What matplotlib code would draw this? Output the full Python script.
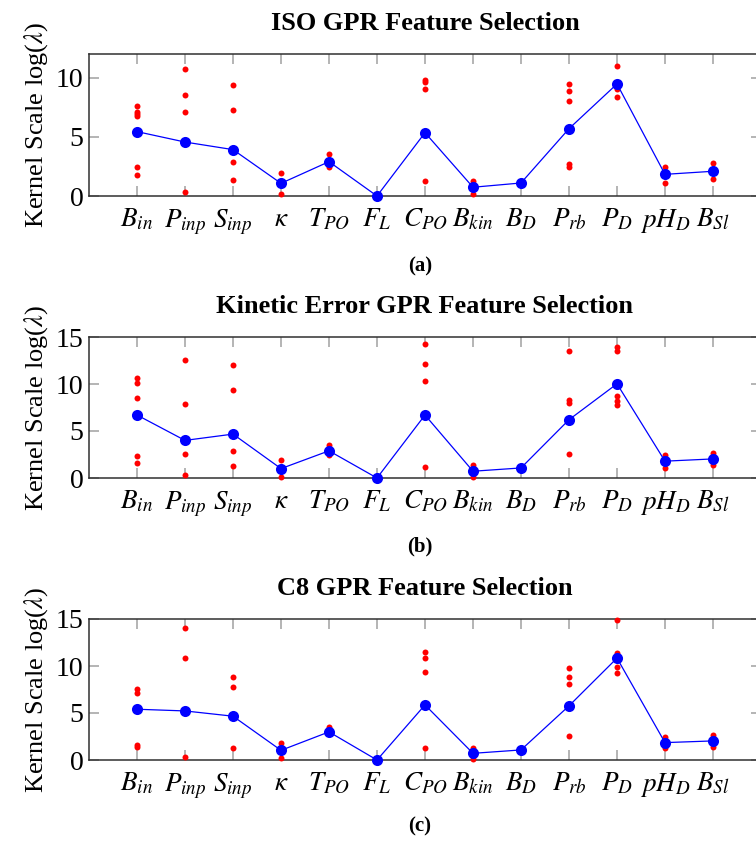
import numpy as np
import matplotlib
matplotlib.use("Agg")
import matplotlib.pyplot as plt

plt.rcParams["font.family"] = "serif"
plt.rcParams["font.serif"] = ["Liberation Serif", "DejaVu Serif"]
plt.rcParams["mathtext.fontset"] = "stix"

features = [r"$B_{in}$", r"$P_{inp}$", r"$S_{inp}$", r"$\kappa$", r"$T_{PO}$", r"$F_L$",
            r"$C_{PO}$", r"$B_{kin}$", r"$B_D$", r"$P_{rb}$", r"$P_D$", r"$pH_D$", r"$B_{Sl}$"]

# (a) ISO
iso_mean = [5.44, 4.56, 3.92, 1.07, 2.9, 0.0, 5.35, 0.74, 1.1, 5.69, 9.47, 1.83, 2.09]
iso_runs = [
    [7.63, 7.13, 6.9, 6.76, 2.45, 1.78],
    [10.7, 8.57, 7.07, 0.37],
    [9.38, 7.27, 2.9, 1.33],
    [1.92, 0.14],
    [3.52, 2.48],
    [],
    [9.78, 9.6, 9.01, 1.27],
    [1.3, 0.17],
    [],
    [9.5, 8.9, 8.06, 2.68, 2.45],
    [11.01, 9.02, 8.4],
    [2.48, 1.13],
    [2.76, 1.41],
]

# (b) Kinetic error
kin_mean = [6.7, 4.0, 4.67, 1.0, 2.89, 0.0, 6.7, 0.72, 1.07, 6.2, 10.02, 1.79, 2.03]
kin_runs = [
    [10.66, 10.09, 8.52, 2.39, 1.57],
    [12.58, 7.88, 2.53, 0.29],
    [11.98, 9.34, 2.85, 1.25],
    [1.89, 0.11],
    [3.5, 2.43],
    [],
    [14.26, 12.12, 10.27, 1.18],
    [1.36, 0.11],
    [],
    [13.55, 8.27, 7.99, 2.53],
    [13.94, 13.47, 8.73, 8.24, 7.77],
    [2.5, 1.07],
    [2.71, 1.36],
]

# (c) C8
c8_mean = [5.4, 5.22, 4.66, 1.03, 2.99, 0.0, 5.86, 0.71, 1.07, 5.76, 10.84, 1.85, 2.03]
c8_runs = [
    [7.57, 7.11, 1.6, 1.42],
    [14.04, 10.84, 0.28],
    [8.78, 7.78, 1.28],
    [1.85, 0.18],
    [3.55],
    [],
    [11.44, 10.84, 9.35, 1.24],
    [1.31, 0.07],
    [],
    [9.74, 8.88, 8.13, 2.56],
    [14.93, 11.37, 9.88, 9.24],
    [2.49, 1.24],
    [2.67, 1.42],
]

panels = [
    ("ISO GPR Feature Selection", "(a)", iso_mean, iso_runs, 12, [0, 5, 10]),
    ("Kinetic Error GPR Feature Selection", "(b)", kin_mean, kin_runs, 15, [0, 5, 10, 15]),
    ("C8 GPR Feature Selection", "(c)", c8_mean, c8_runs, 15, [0, 5, 10, 15]),
]

fig = plt.figure(figsize=(7.56, 8.41), dpi=100)
W, H = 756, 841
ax_boxes = [(54, 196), (337, 478), (619, 760)]  # top / bottom in pixels
cap_y = [266, 546, 826]

x = np.arange(len(features))
for (title, cap, mean, runs, ytop, yticks), (top, bot), cy in zip(panels, ax_boxes, cap_y):
    ax = fig.add_axes([89 / W, 1 - bot / H, 672 / W, (bot - top) / H])
    for i, vals in enumerate(runs):
        ax.plot([i] * len(vals), vals, "o", color="red", ms=4.3, mew=0,
                clip_on=False, zorder=3)
    ax.plot(x, mean, "-o", color="blue", lw=0.9, ms=8, mew=0, zorder=4, clip_on=False)
    ax.set_xlim(-1, len(features))
    ax.set_ylim(0, ytop)
    ax.set_xticks(x)
    ax.set_xticklabels(features, fontsize=19.5)
    ax.set_yticks(yticks)
    ax.tick_params(axis="y", labelsize=20, pad=4)
    ax.tick_params(axis="x", pad=8)
    ax.tick_params(direction="in", length=7, width=1.1, color="#a0a0a0",
                   top=True, right=True)
    for s in ax.spines.values():
        s.set_color("#303030")
        s.set_linewidth(1.1)
    ax.set_ylabel(r"Kernel Scale log($\lambda$)", fontsize=19, labelpad=4)
    ax.set_title(title, fontsize=19, fontweight="bold", pad=17)
    fig.text(420 / W, 1 - cy / H, cap, ha="center", va="center",
             fontsize=15, fontweight="bold")

fig.savefig("out.png", dpi=100)
